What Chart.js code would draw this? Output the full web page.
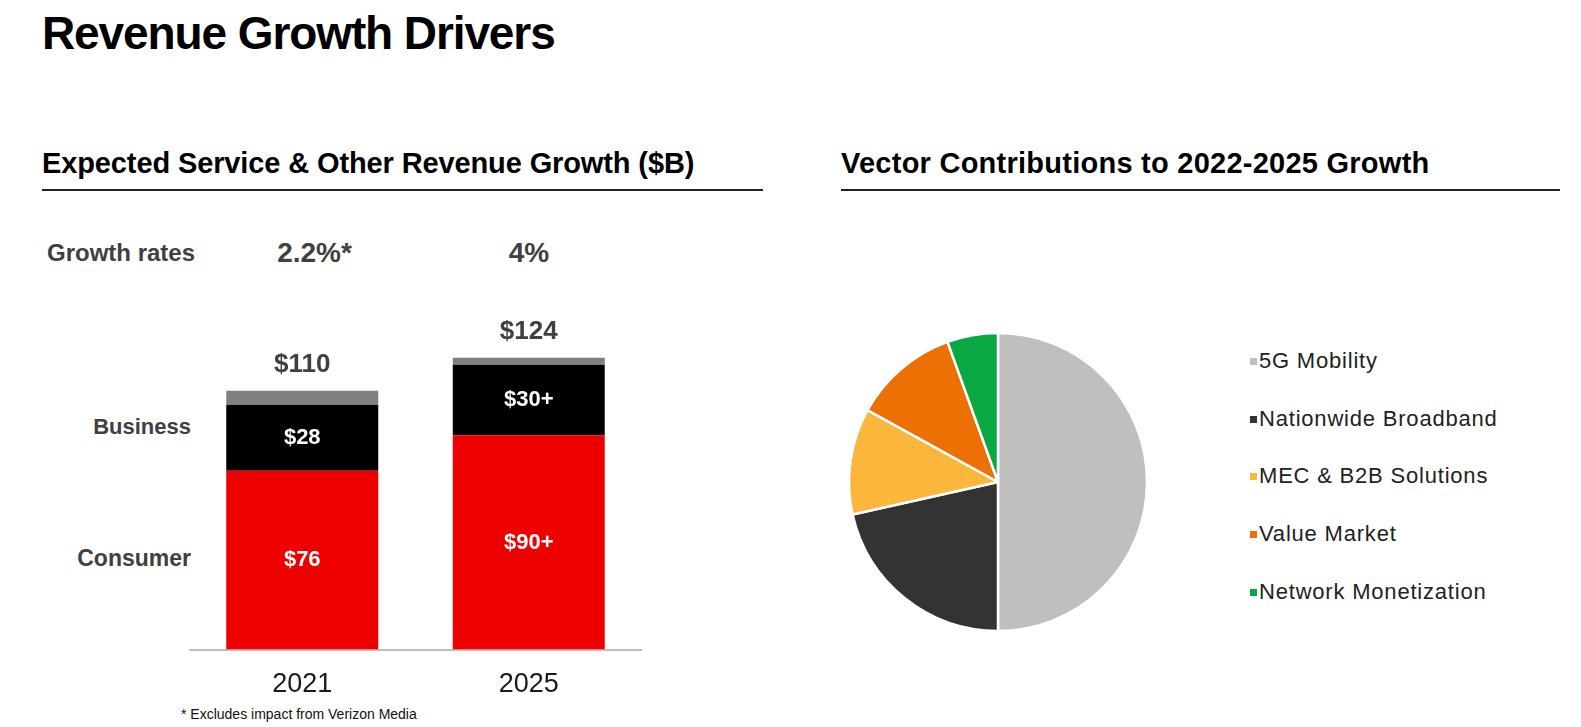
<!DOCTYPE html>
<html>
<head>
<meta charset="utf-8">
<script src="https://cdn.jsdelivr.net/npm/chart.js"></script>
<style>
  html, body { margin: 0; padding: 0; background: #fff; }
  body { width: 1581px; height: 727px; position: relative; overflow: hidden; font-family: "Liberation Sans", Arial, sans-serif; }
  .txt { position: absolute; white-space: nowrap; line-height: 1; }
  .title { left: 42px; top: 10px; font-size: 46px; font-weight: bold; color: #000; letter-spacing: -1.1px; }
  .sub { top: 149px; font-size: 29px; font-weight: bold; color: #000; }
  .rule { position: absolute; height: 2px; background: #222; top: 189px; }
  .grey { color: #404040; font-weight: bold; }
  #bar-wrap { position: absolute; left: 189px; top: 300px; width: 453px; height: 420px; }
  #pie-wrap { position: absolute; left: 838px; top: 322px; width: 320px; height: 320px; }
  #legend { position: absolute; left: 1250px; top: 0; }
  .lg-row { position: absolute; left: 0; height: 22px; white-space: nowrap; }
  .lg-box { position: absolute; left: 0; top: 8px; width: 7px; height: 7px; }
  .lg-text { position: absolute; left: 9px; top: 0; font-size: 22px; line-height: 22px; color: #222; letter-spacing: 0.8px; }
</style>
</head>
<body>
<div class="txt title">Revenue Growth Drivers</div>
<div class="txt sub" style="left:42px; letter-spacing:-0.12px;">Expected Service &amp; Other Revenue Growth ($B)</div>
<div class="rule" style="left:42px; width:721px;"></div>
<div class="txt sub" style="left:841px; letter-spacing:0.25px;">Vector Contributions to 2022-2025 Growth</div>
<div class="rule" style="left:841px; width:719px;"></div>

<div class="txt grey" style="left:47px; top:241px; font-size:24px;">Growth rates</div>
<div class="txt grey" style="left:273px; top:239px; font-size:28px; width:83px; text-align:center;">2.2%*</div>
<div class="txt grey" style="left:489px; top:239px; font-size:28px; width:80px; text-align:center;">4%</div>
<div class="txt grey" style="left:41px; top:416px; font-size:22px; width:150px; text-align:right;">Business</div>
<div class="txt grey" style="left:41px; top:547px; font-size:23px; width:150px; text-align:right;">Consumer</div>
<div class="txt" style="left:181px; top:707px; font-size:14px; color:#111;">* Excludes impact from Verizon Media</div>

<div id="bar-wrap"><canvas id="bar"></canvas></div>
<div id="pie-wrap"><canvas id="pie"></canvas></div>
<div id="legend"></div>

<script>
// bar chart data ($B)
const years = ['2021', '2025'];
const consumer = [76, 91];
const business = [28, 30];
const other = [6, 3];
const consumerLabels = ['$76', '$90+'];
const businessLabels = ['$28', '$30+'];
const totalLabels = ['$110', '$124'];

// pie data (share of 2022-2025 growth, %)
const vectors = ['5G Mobility', 'Nationwide Broadband', 'MEC & B2B Solutions', 'Value Market', 'Network Monetization'];
const vectorShare = [50, 21.5, 11.5, 11.5, 5.5];
const vectorColors = ['#bfbfbf', '#333333', '#fbb63b', '#ec7003', '#0aa843'];

const FONT = '"Liberation Sans", Arial, sans-serif';

const barLabels = {
  id: 'barLabels',
  afterDatasetsDraw(chart) {
    const ctx = chart.ctx;
    ctx.save();
    ctx.textAlign = 'center';
    ctx.textBaseline = 'middle';
    ctx.font = 'bold 22px ' + FONT;
    ctx.fillStyle = '#fff';
    [[0, consumerLabels], [1, businessLabels]].forEach(([di, labels]) => {
      chart.getDatasetMeta(di).data.forEach((bar, i) => {
        ctx.fillText(labels[i], bar.x, (bar.y + bar.base) / 2);
      });
    });
    ctx.font = 'bold 26px ' + FONT;
    ctx.fillStyle = '#404040';
    chart.getDatasetMeta(2).data.forEach((bar, i) => {
      ctx.fillText(totalLabels[i], bar.x, bar.y - 26);
    });
    ctx.restore();
  }
};

new Chart(document.getElementById('bar'), {
  type: 'bar',
  data: {
    labels: years,
    datasets: [
      { label: 'Consumer', data: consumer, backgroundColor: '#ee0000' },
      { label: 'Business', data: business, backgroundColor: '#000000' },
      { label: 'Other', data: other, backgroundColor: '#808080' },
    ],
  },
  options: {
    responsive: true,
    maintainAspectRatio: false,
    animation: false,
    layout: { padding: 0 },
    datasets: { bar: { barPercentage: 0.671, categoryPercentage: 1, borderWidth: 0 } },
    plugins: { legend: { display: false }, tooltip: { enabled: false } },
    scales: {
      x: {
        stacked: true,
        grid: { display: false, drawTicks: false },
        border: { display: true, color: '#bfbfbf', width: 2 },
        ticks: { color: '#1a1a1a', font: { family: FONT, size: 27 }, padding: 19 },
      },
      y: { stacked: true, display: false, min: 0, max: 148.5 },
    },
  },
  plugins: [barLabels],
});

new Chart(document.getElementById('pie'), {
  type: 'pie',
  data: {
    labels: vectors,
    datasets: [{ data: vectorShare, backgroundColor: vectorColors, borderColor: '#ffffff', borderWidth: 2.5 }],
  },
  options: {
    responsive: true,
    maintainAspectRatio: false,
    animation: false,
    radius: 149,
    plugins: { legend: { display: false }, tooltip: { enabled: false } },
  },
});

// html legend, rows built from the pie's labels and colours
const legendTops = [350, 407.5, 465, 523, 581];
const legend = document.getElementById('legend');
vectors.forEach((name, i) => {
  const row = document.createElement('div');
  row.className = 'lg-row';
  row.style.top = legendTops[i] + 'px';
  row.innerHTML = `<span class="lg-box" style="background:${vectorColors[i]}"></span><span class="lg-text">${name}</span>`;
  legend.appendChild(row);
});
</script>
</body>
</html>
